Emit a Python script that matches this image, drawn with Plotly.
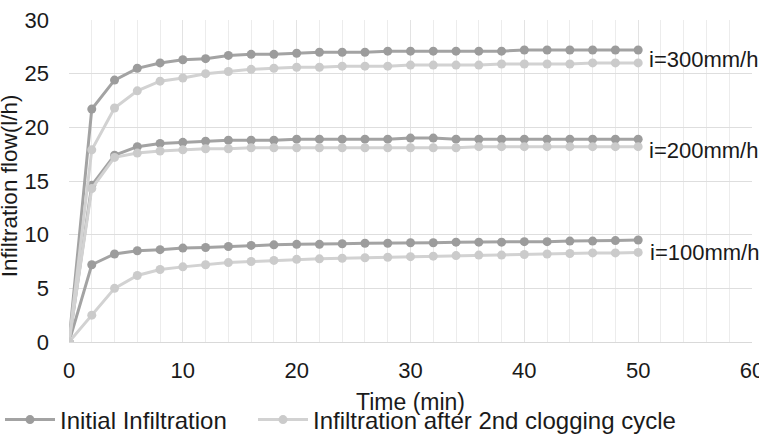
import plotly.graph_objects as go

time_min = [0, 2, 4, 6, 8, 10, 12, 14, 16, 18, 20, 22, 24, 26, 28, 30, 32, 34, 36, 38, 40, 42, 44, 46, 48, 50]

init_300 = [0, 21.7, 24.4, 25.5, 26.0, 26.3, 26.4, 26.7, 26.8, 26.8, 26.9, 27.0, 27.0, 27.0, 27.1, 27.1, 27.1, 27.1, 27.1, 27.1, 27.2, 27.2, 27.2, 27.2, 27.2, 27.2]
clog_300 = [0, 17.9, 21.8, 23.4, 24.3, 24.6, 25.0, 25.2, 25.4, 25.5, 25.6, 25.6, 25.7, 25.7, 25.7, 25.8, 25.8, 25.8, 25.8, 25.9, 25.9, 25.9, 25.9, 26.0, 26.0, 26.0]
init_200 = [0, 14.6, 17.4, 18.2, 18.5, 18.6, 18.7, 18.8, 18.8, 18.8, 18.9, 18.9, 18.9, 18.9, 18.9, 19.0, 19.0, 18.9, 18.9, 18.9, 18.9, 18.9, 18.9, 18.9, 18.9, 18.9]
clog_200 = [0, 14.3, 17.2, 17.6, 17.8, 17.9, 18.0, 18.0, 18.1, 18.1, 18.1, 18.1, 18.1, 18.1, 18.1, 18.1, 18.1, 18.1, 18.2, 18.2, 18.2, 18.2, 18.2, 18.2, 18.2, 18.2]
init_100 = [0, 7.2, 8.2, 8.5, 8.6, 8.75, 8.8, 8.9, 9.0, 9.05, 9.1, 9.1, 9.15, 9.2, 9.2, 9.25, 9.25, 9.3, 9.3, 9.3, 9.35, 9.35, 9.4, 9.4, 9.45, 9.5]
clog_100 = [0, 2.5, 5.0, 6.2, 6.75, 7.0, 7.2, 7.4, 7.5, 7.6, 7.7, 7.75, 7.8, 7.85, 7.9, 7.95, 8.0, 8.05, 8.1, 8.1, 8.15, 8.2, 8.25, 8.3, 8.3, 8.35]

series_names = ["Initial Infiltration", "Infiltration after 2nd clogging cycle"]
rate_labels = ["i=300mm/h", "i=200mm/h", "i=100mm/h"]
label_x = [50.8, 50.8, 50.9]
label_y = [26.3, 17.8, 8.3]

DARK = "#a3a3a3"
DARK_M = "#9c9c9c"
LIGHT = "#d2d2d2"
LIGHT_M = "#cbcbcb"
FONT = "Liberation Sans, Arial, sans-serif"

fig = go.Figure()
groups = [(init_300, clog_300), (init_200, clog_200), (init_100, clog_100)]
for gi, (ini, clg) in enumerate(groups):
    fig.add_trace(go.Scatter(x=time_min, y=ini, mode="lines+markers", name=series_names[0],
                             legend="legend", showlegend=(gi == 0),
                             line=dict(color=DARK, width=3),
                             marker=dict(color=DARK_M, size=9)))
for gi, (ini, clg) in enumerate(groups):
    fig.add_trace(go.Scatter(x=time_min, y=clg, mode="lines+markers", name=series_names[1],
                             legend="legend2", showlegend=(gi == 0),
                             line=dict(color=LIGHT, width=3),
                             marker=dict(color=LIGHT_M, size=9)))

for txt, xx, yy in zip(rate_labels, label_x, label_y):
    fig.add_annotation(x=xx, y=yy, text=txt, showarrow=False, xanchor="left", yanchor="middle",
                       font=dict(size=22, color="#1a1a1a", family=FONT))

fig.add_annotation(xref="paper", yref="paper", x=(9 - 69) / 683, y=(341.7 - 186) / 321.7,
                   text="Infiltration flow(l/h)",
                   textangle=-90, showarrow=False, xanchor="center", yanchor="middle",
                   font=dict(size=22.5, color="#1a1a1a", family=FONT))
fig.add_annotation(xref="paper", yref="paper", x=0.5, y=(341.7 - 402) / 321.7, text="Time (min)",
                   showarrow=False, xanchor="center", yanchor="middle",
                   font=dict(size=23, color="#1a1a1a", family=FONT))

leg_common = dict(orientation="h", xref="container", yref="container", xanchor="left",
                  y=(436 - 420) / 436, yanchor="middle",
                  font=dict(size=24, family=FONT, color="#1a1a1a"),
                  itemwidth=50, bgcolor="rgba(0,0,0,0)")

fig.update_layout(
    width=759, height=436,
    margin=dict(l=69, r=7, t=20, b=94.3),
    paper_bgcolor="white", plot_bgcolor="white",
    font=dict(family=FONT, color="#1a1a1a", size=22),
    showlegend=True,
    legend=dict(x=-4 / 759, **leg_common),
    legend2=dict(x=253 / 759, **leg_common),
    xaxis=dict(range=[0, 60], dtick=10, tick0=0, showgrid=True, gridcolor="#e3e3e3", gridwidth=1,
               minor=dict(dtick=2, showgrid=True, gridcolor="#ececec", gridwidth=1),
               zeroline=False, showline=True, linecolor="#d9d9d9", linewidth=1, automargin=False,
               ticks="", tickfont=dict(size=22), ticklabelstandoff=9, ticklabeloverflow="allow"),
    yaxis=dict(range=[0, 30], dtick=5, tick0=0, showgrid=True, gridcolor="#dedede", gridwidth=1,
               zeroline=False, showline=False, ticks="", tickfont=dict(size=22), ticklabelstandoff=19,
               automargin=False),
)

fig.write_html("out.html")
